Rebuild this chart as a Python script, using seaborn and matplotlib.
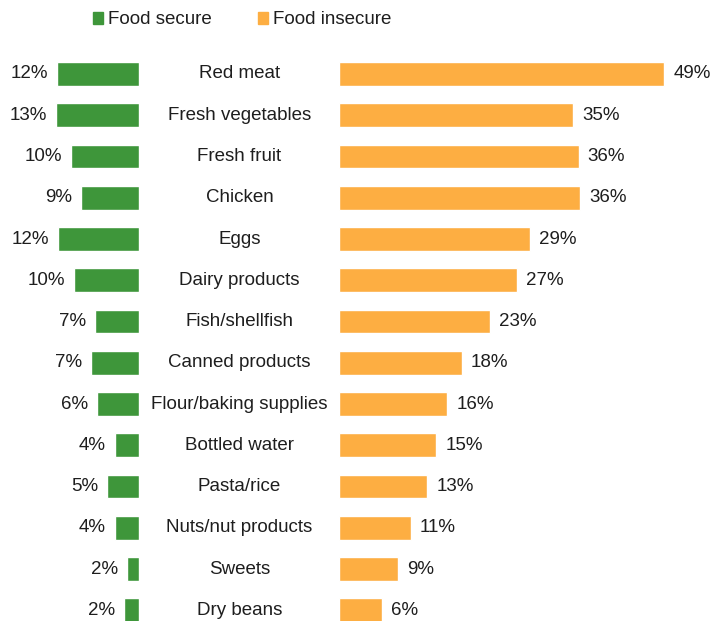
import matplotlib
matplotlib.use("Agg")
import matplotlib.pyplot as plt
import matplotlib.transforms as mtransforms
from matplotlib.patches import Patch
import seaborn as sns
import pandas as pd

categories = ["Red meat", "Fresh vegetables", "Fresh fruit", "Chicken", "Eggs",
              "Dairy products", "Fish/shellfish", "Canned products",
              "Flour/baking supplies", "Bottled water", "Pasta/rice",
              "Nuts/nut products", "Sweets", "Dry beans"]
food_secure = [12.4, 12.6, 10.3, 8.8, 12.3, 9.8, 6.7, 7.3, 6.4, 3.7, 4.8, 3.7, 1.8, 2.3]
food_insecure = [49.0, 35.3, 36.1, 36.3, 28.8, 26.8, 22.7, 18.5, 16.3, 14.6, 13.3, 10.8, 8.8, 6.4]

GREEN = "#3E963A"
ORANGE = "#FDAE42"
TXT = "#1E1E1E"
FS = 13.5

sns.set_style("white")
plt.rcParams["font.family"] = ["Liberation Sans", "DejaVu Sans"]
plt.rcParams["font.size"] = FS

df = pd.DataFrame({"category": categories, "secure": food_secure, "insecure": food_insecure})

W, H = 711, 621
fig = plt.figure(figsize=(W / 100, H / 100), dpi=100)

# pixel geometry
px_per_pct = 6.63
row_px = 41.25
first_px = 74.0
top_px = first_px - row_px / 2
ax_h = (H - top_px) / H
n = len(categories)
ylim = (n - 1 + (H - (first_px + (n - 1) * row_px)) / row_px, -0.5)

left_w = 139.3
ax_l = fig.add_axes([0, 0, left_w / W, ax_h])
right_x = 339.3
ax_r = fig.add_axes([right_x / W, 0, (W - right_x) / W, ax_h])

sns.barplot(data=df, x="secure", y="category", color=GREEN, width=0.57,
            saturation=1, ax=ax_l, orient="h")
sns.barplot(data=df, x="insecure", y="category", color=ORANGE, width=0.57,
            saturation=1, ax=ax_r, orient="h")

ax_l.set_xlim(left_w / px_per_pct, 0)
ax_r.set_xlim(0, (W - right_x) / px_per_pct)

for ax in (ax_l, ax_r):
    ax.set_ylim(*ylim)
    ax.axis("off")
    ax.bar_label(ax.containers[0], labels=[f"{round(v)}%" for v in ax.containers[0].datavalues],
                 padding=6.5, color=TXT, fontsize=FS)

trans = mtransforms.blended_transform_factory(fig.transFigure, ax_r.transData)
for i, cat in enumerate(categories):
    fig.text(239.5 / W, i, cat, transform=trans, ha="center", va="center",
             color=TXT, fontsize=FS)

handles = [Patch(color=GREEN, label="Food secure"), Patch(color=ORANGE, label="Food insecure")]
fig.legend(handles=handles, loc="center", bbox_to_anchor=(242 / W, 1 - 20 / H), ncol=2,
           frameon=False, handlelength=0.55, handleheight=0.55, handletextpad=0.25,
           columnspacing=2.5, fontsize=FS, labelcolor=TXT)

fig.savefig("out.png", dpi=100)
